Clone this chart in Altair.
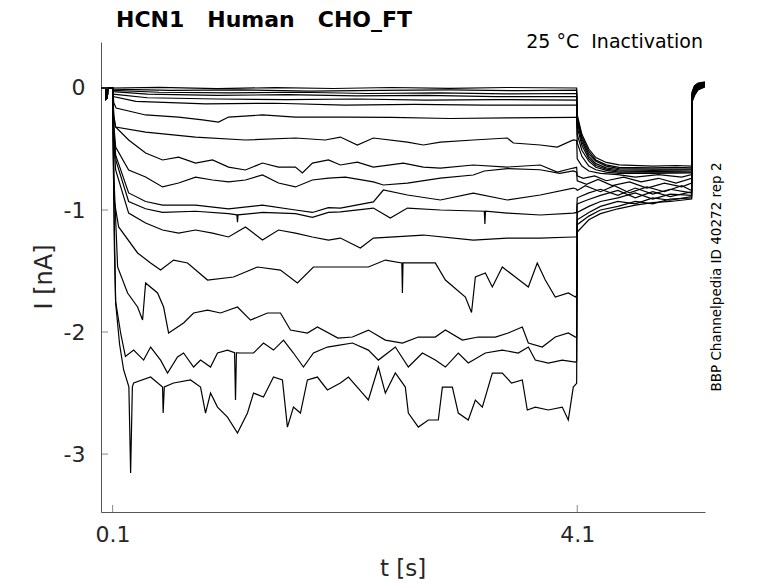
import altair as alt
import pandas as pd

# ---------------- data (t in s, I in nA) ----------------
PRE = [(0.0, 0.0), (0.043, 0.0), (0.045, -0.09), (0.055, -0.08), (0.057, 0.0), (0.1, 0.0)]

Z1_step = [(0.5, 0.005), (1.0, -0.005), (1.5, 0.003), (2.0, -0.004), (2.5, 0.004), (3.0, -0.003), (3.5, 0.004), (4.095, 0.0)]
Z1_test = [(4.1, -0.22), (4.14, -0.38), (4.2, -0.50), (4.26, -0.57), (4.35, -0.61), (4.46, -0.63), (4.75, -0.64), (4.95, -0.635), (5.085, -0.64)]
Z1_tail = [(5.09, -0.03), (5.11, 0.02), (5.14, 0.04), (5.2, 0.05)]

Z2_step = [(0.105, -0.01), (0.6, -0.02), (1.2, -0.015), (1.8, -0.025), (2.4, -0.02), (3.0, -0.015), (3.6, -0.022), (4.095, -0.018)]
Z2_test = [(4.1, -0.24), (4.14, -0.40), (4.2, -0.52), (4.26, -0.59), (4.35, -0.63), (4.46, -0.65), (4.75, -0.655), (4.95, -0.65), (5.085, -0.655)]
Z2_tail = [(5.09, -0.035), (5.11, 0.015), (5.14, 0.035), (5.2, 0.045)]

Z3_step = [(0.105, -0.02), (0.5, -0.035), (1.1, -0.04), (1.7, -0.035), (2.3, -0.045), (2.9, -0.04), (3.5, -0.048), (4.095, -0.045)]
Z3_test = [(4.1, -0.26), (4.14, -0.42), (4.2, -0.54), (4.26, -0.60), (4.35, -0.64), (4.46, -0.66), (4.75, -0.665), (5.085, -0.665)]
Z3_tail = [(5.09, -0.04), (5.11, 0.01), (5.14, 0.03), (5.2, 0.042)]

Z4_step = [(0.105, -0.03), (0.4, -0.05), (1.0, -0.06), (1.6, -0.055), (2.2, -0.065), (2.8, -0.06), (3.4, -0.07), (4.095, -0.07)]
Z4_test = [(4.1, -0.28), (4.14, -0.44), (4.2, -0.56), (4.26, -0.62), (4.35, -0.655), (4.46, -0.67), (4.75, -0.675), (5.085, -0.67)]
Z4_tail = [(5.09, -0.045), (5.11, 0.005), (5.14, 0.028), (5.2, 0.04)]

Z5_step = [(0.105, -0.05), (0.4, -0.08), (1.0, -0.09), (1.6, -0.095), (2.2, -0.09), (2.8, -0.1), (3.4, -0.095), (4.095, -0.1)]
Z5_test = [(4.1, -0.32), (4.14, -0.47), (4.2, -0.58), (4.26, -0.635), (4.35, -0.665), (4.46, -0.68), (4.75, -0.685), (5.085, -0.68)]
Z5_tail = [(5.09, -0.05), (5.11, 0.0), (5.14, 0.025), (5.2, 0.038)]

Z6_step = [(0.105, -0.07), (0.3, -0.11), (0.9, -0.13), (1.5, -0.125), (2.1, -0.14), (2.7, -0.135), (3.3, -0.14), (4.095, -0.14)]
Z6_test = [(4.1, -0.38), (4.14, -0.51), (4.2, -0.60), (4.26, -0.65), (4.35, -0.675), (4.46, -0.69), (4.75, -0.69), (5.085, -0.69)]
Z6_tail = [(5.09, -0.055), (5.11, -0.005), (5.14, 0.022), (5.2, 0.035)]

A_step = [(0.11, -0.12), (0.13, -0.164), (0.384, -0.221), (0.668, -0.238), (0.874, -0.262), (1.012, -0.279), (1.098, -0.238),
          (1.390, -0.221), (1.674, -0.238), (2.104, -0.238), (2.5, -0.24), (3.0, -0.25), (3.5, -0.245), (4.066, -0.24), (4.095, -0.24)]
A_test = [(4.1, -0.45), (4.14, -0.56), (4.2, -0.64), (4.26, -0.67), (4.35, -0.69), (4.46, -0.70), (4.75, -0.70), (5.085, -0.695)]
A_tail = [(5.09, -0.06), (5.11, -0.01), (5.14, 0.02), (5.2, 0.033)]

B_step = [(0.11, -0.25), (0.126, -0.32), (0.384, -0.361), (0.814, -0.402), (1.244, -0.426), (1.674, -0.410), (1.93, -0.426),
          (2.061, -0.402), (2.207, -0.467), (2.345, -0.410), (2.638, -0.443), (2.775, -0.467), (2.922, -0.443), (3.205, -0.426),
          (3.498, -0.410), (3.55, -0.451), (3.782, -0.467), (3.928, -0.484), (4.066, -0.426), (4.095, -0.43)]
B_test = [(4.1, -0.58), (4.14, -0.64), (4.2, -0.68), (4.3, -0.70), (4.45, -0.71), (4.6, -0.73), (4.8, -0.71), (5.0, -0.73), (5.085, -0.71)]
B_tail = [(5.09, -0.065), (5.11, -0.015), (5.14, 0.018), (5.2, 0.03)]

C_step = [(0.11, -0.22), (0.126, -0.320), (0.238, -0.426), (0.384, -0.533), (0.530, -0.590), (0.668, -0.566), (0.814, -0.615),
          (0.960, -0.590), (1.098, -0.648), (1.244, -0.672), (1.390, -0.615), (1.528, -0.648), (1.674, -0.648), (1.734, -0.697),
          (1.820, -0.615), (1.958, -0.590), (2.061, -0.631), (2.207, -0.607), (2.345, -0.648), (2.603, -0.615), (2.775, -0.648),
          (2.922, -0.656), (3.205, -0.631), (3.498, -0.648), (3.782, -0.631), (3.928, -0.689), (4.066, -0.656), (4.095, -0.65)]
C_test = [(4.1, -0.72), (4.15, -0.74), (4.25, -0.72), (4.35, -0.76), (4.5, -0.73), (4.65, -0.77), (4.8, -0.74), (4.95, -0.78), (5.085, -0.74)]
C_tail = [(5.09, -0.07), (5.11, -0.02), (5.14, 0.015), (5.2, 0.028)]

D_step = [(0.11, -0.3), (0.126, -0.484), (0.238, -0.672), (0.384, -0.730), (0.530, -0.811), (0.668, -0.779), (0.814, -0.730),
          (0.960, -0.754), (1.098, -0.770), (1.244, -0.754), (1.390, -0.713), (1.528, -0.779), (1.674, -0.811), (1.820, -0.754),
          (1.958, -0.738), (2.104, -0.730), (2.345, -0.770), (2.431, -0.795), (2.638, -0.779), (2.922, -0.738), (3.205, -0.713),
          (3.30, -0.68), (3.5, -0.66), (3.78, -0.67), (3.95, -0.70), (4.066, -0.68), (4.095, -0.69)]
D_test = [(4.1, -0.76), (4.18, -0.79), (4.28, -0.75), (4.4, -0.80), (4.55, -0.77), (4.7, -0.82), (4.85, -0.78), (5.0, -0.81), (5.085, -0.78)]
D_tail = [(5.09, -0.075), (5.11, -0.025), (5.14, 0.012), (5.2, 0.026)]

E1_step = [(0.11, -0.35), (0.126, -0.55), (0.238, -0.86), (0.384, -0.93), (0.530, -0.96), (0.814, -0.96), (1.098, -0.99),
           (1.39, -0.96), (1.674, -1.0), (1.82, -1.02), (1.958, -0.98), (2.061, -0.984), (2.345, -0.934), (2.431, -0.836),
           (2.638, -0.877), (2.922, -0.918), (3.205, -0.861), (3.498, -0.918), (3.782, -0.877), (4.066, -0.820), (4.095, -0.83)]
E1_test = [(4.1, -0.84), (4.17, -0.80), (4.3, -0.85), (4.42, -0.80), (4.55, -0.86), (4.7, -0.81), (4.85, -0.85), (5.0, -0.80), (5.085, -0.84)]
E1_tail = [(5.09, -0.08), (5.11, -0.03), (5.14, 0.01), (5.2, 0.024)]

E2_step = [(0.11, -0.4), (0.13, -0.6), (0.238, -0.93), (0.384, -0.99), (0.530, -1.02), (0.814, -1.01), (1.098, -1.03),
           (1.17, -1.04), (1.175, -1.10), (1.18, -1.04), (1.39, -1.02), (1.674, -1.03), (1.82, -1.06), (1.958, -1.02),
           (2.061, -1.016), (2.345, -0.984), (2.491, -1.066), (2.638, -0.984), (2.922, -1.0), (3.30, -1.01), (3.305, -1.115),
           (3.31, -1.01), (3.498, -1.025), (3.782, -1.041), (4.066, -1.025), (4.095, -1.02)]
E2_test = [(4.1, -0.90), (4.2, -0.86), (4.3, -0.83), (4.45, -0.88), (4.6, -0.82), (4.75, -0.87), (4.9, -0.83), (5.085, -0.86)]
E2_tail = [(5.09, -0.085), (5.11, -0.035), (5.14, 0.008), (5.2, 0.022)]

F_step = [(0.11, -0.45), (0.126, -0.672), (0.238, -1.025), (0.384, -1.107), (0.530, -1.164), (0.668, -1.189), (0.814, -1.164),
          (0.960, -1.189), (1.098, -1.221), (1.244, -1.139), (1.390, -1.246), (1.528, -1.164), (1.674, -1.189), (1.820, -1.221),
          (1.958, -1.246), (2.061, -1.230), (2.233, -1.311), (2.345, -1.230), (2.775, -1.205), (3.205, -1.246), (3.498, -1.230),
          (3.782, -1.230), (4.066, -1.221), (4.095, -1.22)]
F_test = [(4.1, -0.95), (4.18, -0.92), (4.3, -0.88), (4.45, -0.84), (4.6, -0.90), (4.75, -0.85), (4.9, -0.89), (5.085, -0.85)]
F_tail = [(5.09, -0.09), (5.11, -0.04), (5.14, 0.005), (5.2, 0.02)]

T4_step = [(0.11, -0.9), (0.152, -1.139), (0.315, -1.352), (0.427, -1.434), (0.513, -1.492), (0.625, -1.410), (0.745, -1.434),
           (0.917, -1.574), (1.141, -1.549), (1.347, -1.467), (1.545, -1.492), (1.691, -1.598), (1.829, -1.467), (2.061, -1.467),
           (2.302, -1.467), (2.448, -1.410), (2.590, -1.434), (2.595, -1.680), (2.600, -1.434), (2.878, -1.434), (2.965, -1.574),
           (3.137, -1.713), (3.19, -1.84), (3.223, -1.549), (3.309, -1.516), (3.369, -1.631), (3.455, -1.467), (3.567, -1.549),
           (3.679, -1.631), (3.756, -1.434), (3.825, -1.574), (3.911, -1.713), (4.023, -1.680), (4.084, -1.713), (4.095, -1.70)]
T4_test = [(4.1, -1.02), (4.2, -0.97), (4.3, -0.93), (4.45, -0.90), (4.6, -0.86), (4.75, -0.91), (4.9, -0.87), (5.085, -0.88)]
T4_tail = [(5.09, -0.095), (5.11, -0.045), (5.14, 0.0), (5.2, 0.018)]

T3_step = [(0.11, -0.7), (0.143, -1.467), (0.229, -1.680), (0.315, -1.795), (0.358, -1.902), (0.384, -1.598), (0.487, -1.680),
           (0.539, -1.795), (0.582, -2.008), (0.711, -1.926), (0.797, -1.844), (0.917, -1.820), (1.029, -1.844), (1.175, -1.795),
           (1.287, -1.902), (1.433, -1.844), (1.545, -1.844), (1.631, -1.984), (1.777, -2.008), (1.863, -1.959), (2.040, -2.05),
           (2.165, -2.041), (2.302, -1.984), (2.448, -2.066), (2.595, -2.090), (2.732, -2.041), (2.878, -2.041), (2.965, -1.984),
           (3.111, -2.066), (3.248, -2.041), (3.395, -2.041), (3.506, -2.008), (3.627, -1.959), (3.679, -2.090), (3.799, -2.123),
           (3.911, -2.041), (4.023, -2.008), (4.084, -2.041), (4.095, -2.04)]
T3_test = [(4.1, -1.08), (4.2, -1.02), (4.3, -0.97), (4.45, -0.93), (4.6, -0.95), (4.75, -0.90), (4.9, -0.92), (5.085, -0.89)]
T3_tail = [(5.09, -0.1), (5.11, -0.05), (5.14, -0.005), (5.2, 0.015)]

T2_step = [(0.110, -0.9), (0.126, -1.75), (0.169, -2.008), (0.210, -2.2), (0.281, -2.148), (0.367, -2.230), (0.427, -2.123),
           (0.513, -2.230), (0.573, -2.336), (0.659, -2.205), (0.711, -2.172), (0.797, -2.287), (0.857, -2.230), (0.943, -2.287),
           (1.003, -2.172), (1.089, -2.148), (1.150, -2.17), (1.158, -2.557), (1.166, -2.17), (1.201, -2.172), (1.313, -2.172),
           (1.399, -2.090), (1.485, -2.148), (1.571, -2.066), (1.657, -2.172), (1.743, -2.287), (1.829, -2.172), (1.949, -2.123),
           (2.040, -2.11), (2.165, -2.090), (2.302, -2.148), (2.388, -2.230), (2.534, -2.123), (2.646, -2.287), (2.767, -2.172),
           (2.878, -2.230), (2.965, -2.287), (3.076, -2.172), (3.162, -2.254), (3.309, -2.172), (3.455, -2.148), (3.592, -2.172),
           (3.679, -2.123), (3.739, -2.230), (3.851, -2.254), (3.971, -2.230), (4.084, -2.246), (4.095, -2.24)]
T2_test = [(4.1, -1.12), (4.2, -1.05), (4.3, -1.0), (4.45, -0.97), (4.6, -0.93), (4.75, -0.95), (4.9, -0.91), (5.085, -0.9)]
T2_tail = [(5.09, -0.105), (5.11, -0.055), (5.14, -0.01), (5.2, 0.012)]

T1_step = [(0.106, -0.4), (0.115, -1.3), (0.126, -1.762), (0.160, -2.10), (0.195, -2.311), (0.240, -2.45), (0.255, -3.156),
           (0.270, -2.45), (0.281, -2.418), (0.427, -2.369), (0.530, -2.451), (0.535, -2.664), (0.545, -2.45), (0.625, -2.418),
           (0.771, -2.393), (0.857, -2.451), (0.900, -2.664), (0.943, -2.500), (1.003, -2.615), (1.089, -2.697), (1.175, -2.828),
           (1.261, -2.664), (1.313, -2.500), (1.399, -2.533), (1.485, -2.369), (1.562, -2.393), (1.605, -2.779), (1.657, -2.615),
           (1.717, -2.664), (1.777, -2.393), (1.863, -2.369), (1.949, -2.475), (2.061, -2.418), (2.130, -2.369), (2.251, -2.500),
           (2.302, -2.557), (2.388, -2.287), (2.448, -2.500), (2.534, -2.336), (2.620, -2.451), (2.646, -2.664), (2.732, -2.779),
           (2.818, -2.721), (2.904, -2.721), (2.939, -2.451), (3.025, -2.451), (3.076, -2.664), (3.162, -2.721), (3.223, -2.557),
           (3.283, -2.615), (3.369, -2.336), (3.455, -2.336), (3.534, -2.418), (3.627, -2.393), (3.670, -2.639), (3.739, -2.615),
           (3.851, -2.639), (3.971, -2.615), (4.023, -2.721), (4.066, -2.451), (4.095, -2.42)]
T1_test = [(4.1, -1.18), (4.2, -1.08), (4.3, -1.03), (4.45, -0.99), (4.6, -0.96), (4.75, -0.94), (4.9, -0.93), (5.085, -0.91)]
T1_tail = [(5.09, -0.11), (5.11, -0.06), (5.14, -0.015), (5.2, 0.01)]

X_TICKS = [0.1, 4.1]
Y_TICKS = [0, -1, -2, -3]
TITLE = "HCN1\u00a0\u00a0\u00a0Human\u00a0\u00a0\u00a0CHO_FT"
COND = "25 \u00b0C\u00a0\u00a0Inactivation"
SOURCE = "BBP Channelpedia ID 40272 rep 2"
X_TITLE = "t [s]"
Y_TITLE = "I [nA]"

series = [
    ("Z1", Z1_step, Z1_test, Z1_tail), ("Z2", Z2_step, Z2_test, Z2_tail), ("Z3", Z3_step, Z3_test, Z3_tail),
    ("Z4", Z4_step, Z4_test, Z4_tail), ("Z5", Z5_step, Z5_test, Z5_tail), ("Z6", Z6_step, Z6_test, Z6_tail),
    ("A", A_step, A_test, A_tail), ("B", B_step, B_test, B_tail), ("C", C_step, C_test, C_tail),
    ("D", D_step, D_test, D_tail), ("E1", E1_step, E1_test, E1_tail), ("E2", E2_step, E2_test, E2_tail),
    ("F", F_step, F_test, F_tail), ("T4", T4_step, T4_test, T4_tail), ("T3", T3_step, T3_test, T3_tail),
    ("T2", T2_step, T2_test, T2_tail), ("T1", T1_step, T1_test, T1_tail),
]

rows = []
for name, step, test, tail in series:
    for t, i in PRE + step + test + tail:
        rows.append({"trace": name, "t": t, "I": i})
df = pd.DataFrame(rows)

FONT = "DejaVu Sans"
AX = "#555555"
TXT = "#262626"
W, H = 604, 470

lines = alt.Chart(df).mark_line(color="black", strokeWidth=1.2, clip=True).encode(
    x=alt.X("t:Q", scale=alt.Scale(domain=[0, 5.2], nice=False, zero=False),
            axis=alt.Axis(values=X_TICKS, format=".1f", title=None, ticks=False, grid=False,
                          domainColor=AX, domainWidth=1, labelFont=FONT, labelFontSize=22,
                          labelColor=TXT, labelPadding=12)),
    y=alt.Y("I:Q", scale=alt.Scale(domain=[-3.475, 0.377], nice=False, zero=False),
            axis=alt.Axis(values=Y_TICKS, format="d", title=None, ticks=False, grid=False,
                          domainColor=AX, domainWidth=1, labelFont=FONT, labelFontSize=22,
                          labelColor=TXT, labelPadding=16,
                          labelExpr="replace(datum.label, '\u2212', '-')")),
    detail="trace:N",
    order="t:Q",
)

xt = alt.Chart(pd.DataFrame({"t": X_TICKS})).mark_tick(
    orient="vertical", size=7, thickness=1, color=AX).encode(x="t:Q", y=alt.value(H - 3.5))
yt = alt.Chart(pd.DataFrame({"I": Y_TICKS})).mark_tick(
    orient="horizontal", size=7, thickness=1, color=AX).encode(y="I:Q", x=alt.value(3.5))

def label(text, px, py, size, **kw):
    return alt.Chart(pd.DataFrame({"s": [text]})).mark_text(
        font=FONT, fontSize=size, **kw).encode(text="s:N", x=alt.value(px), y=alt.value(py))

title = label(TITLE, 15, -15, 22, fontWeight="bold", align="left", baseline="alphabetic", color="black")
cond = label(COND, 602, 6, 19, align="right", baseline="alphabetic", color="black")
src = label(SOURCE, 616, 235, 13.5, align="center", baseline="middle", angle=270, color="black")
ylab = label(Y_TITLE, -56, 235, 24, align="center", baseline="middle", angle=270, color=TXT)
xlab = label(X_TITLE, 302, 534, 23, align="center", baseline="alphabetic", color=TXT)

chart = alt.layer(lines, xt, yt, title, cond, src, ylab, xlab).properties(
    width=W, height=H,
    padding={"left": 93, "top": 34, "right": 65, "bottom": 71},
    autosize=alt.AutoSizeParams(type="none"),
    background="white",
).configure_view(stroke=None)

chart.save("out.html", embed_options={"renderer": "svg", "actions": False})
